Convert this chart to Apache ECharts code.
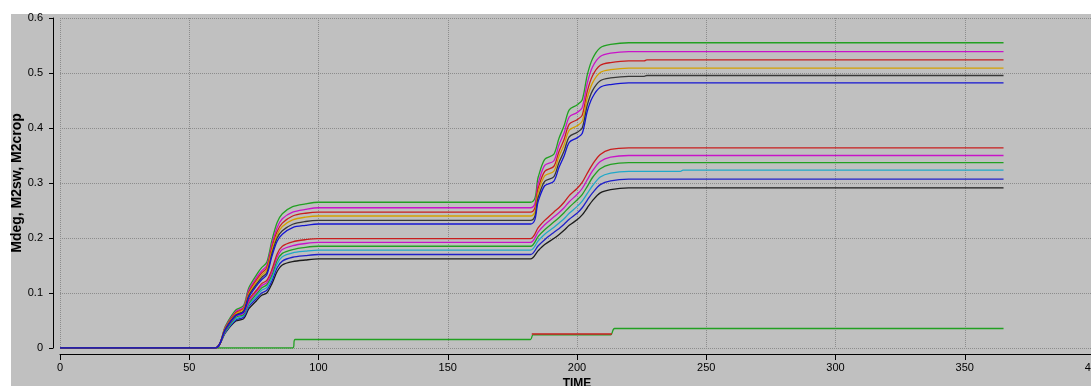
<!DOCTYPE html>
<html>
<head>
<meta charset="utf-8">
<script src="https://cdn.jsdelivr.net/npm/echarts@6/dist/echarts.min.js"></script>
<style>
  html, body { margin: 0; padding: 0; background: #fff; }
  .chart_wrap { position: relative; width: 1091px; height: 386px; overflow: hidden; background: #fff; }
  .panel { position: absolute; left: 11px; top: 14px; width: 1080px; height: 372px; background: #c0c0c0; }
  #chart { position: absolute; left: 0; top: 0; width: 1091px; height: 386px; }
</style>
</head>
<body>
<div class="chart_wrap">
  <div class="panel"></div>
  <div id="chart"></div>
</div>
<script>
// simulation days shared by the curves
const days = [0, 60, 64, 68, 71, 73, 76, 78, 80, 82, 84, 86, 90, 95, 100,
  182, 185, 187.5, 191, 193, 195, 197, 200, 202, 204, 206, 209, 213, 220, 226, 227, 240, 241, 365]

// upper group (ends around 0.48 - 0.56)
const upGreen = [0, 0, .040, .069, .077, .109, .133, .146, .156, .196, .228, .244, .257, .262, .265,
  .265, .311, .343, .352, .381, .404, .433, .442, .451, .497, .526, .546, .552, .555, .555, .555, .555, .555, .555]
const upMagenta = [0, 0, .038, .066, .074, .105, .128, .140, .150, .189, .219, .235, .247, .252, .255,
  .255, .300, .332, .340, .369, .391, .420, .428, .437, .482, .511, .530, .536, .539, .539, .539, .539, .539, .539]
const upRed = [0, 0, .037, .064, .072, .101, .124, .136, .146, .183, .212, .227, .240, .245, .247,
  .247, .291, .321, .330, .357, .379, .407, .415, .423, .467, .495, .514, .519, .522, .522, .524, .524, .524, .524]
const upOrange = [0, 0, .036, .062, .070, .098, .120, .132, .142, .178, .206, .221, .233, .238, .240,
  .240, .283, .313, .321, .348, .369, .396, .404, .412, .455, .482, .501, .506, .509, .509, .509, .509, .509, .509]
const upBlack = [0, 0, .035, .060, .067, .095, .116, .128, .137, .172, .200, .213, .225, .230, .232,
  .232, .274, .303, .311, .337, .358, .384, .392, .400, .442, .468, .486, .491, .494, .494, .4955, .4955, .4955, .4955]
const upBlue = [0, 0, .034, .059, .065, .092, .113, .124, .133, .167, .194, .207, .219, .223, .2255,
  .2255, .267, .295, .303, .328, .349, .374, .382, .390, .431, .456, .474, .479, .482, .482, .482, .482, .482, .482]

// lower group (ends around 0.29 - 0.36)
const lowRed = [0, 0, .034, .060, .066, .088, .105, .117, .123, .143, .171, .185, .193, .197, .199,
  .199, .219, .232, .247, .255, .265, .277, .290, .301, .318, .334, .352, .361, .364, .364, .364, .364, .364, .364]
const lowMagenta = [0, 0, .033, .058, .063, .084, .102, .113, .119, .138, .165, .179, .186, .190, .192,
  .192, .211, .224, .238, .246, .255, .266, .279, .290, .306, .322, .339, .347, .350, .350, .350, .350, .350, .350]
const lowGreen = [0, 0, .031, .056, .061, .081, .098, .109, .115, .133, .159, .172, .179, .183, .185,
  .185, .203, .215, .229, .237, .246, .256, .269, .279, .294, .310, .326, .334, .337, .337, .337, .337, .337, .337]
const lowCyan = [0, 0, .030, .053, .059, .078, .094, .105, .110, .128, .153, .166, .173, .176, .178,
  .178, .195, .207, .219, .227, .235, .245, .257, .267, .281, .295, .311, .318, .321, .321, .321, .321, .3235, .3235]
const lowBlue = [0, 0, .029, .051, .056, .075, .090, .100, .105, .122, .146, .158, .165, .168, .170,
  .170, .186, .197, .210, .217, .225, .234, .245, .255, .269, .282, .297, .304, .307, .307, .307, .307, .307, .307]
const lowBlack = [0, 0, .028, .049, .053, .071, .086, .096, .100, .117, .139, .151, .157, .160, .162,
  .162, .177, .188, .199, .206, .214, .223, .233, .242, .255, .268, .282, .288, .291, .291, .291, .291, .291, .291]

// small step line near zero
const stepDays = [0, 90, 91, 182, 183, 213, 214.5, 365]
const stepGreen = [0, 0, .0155, .0155, .024, .024, .0355, .0355]
const stepRedDays = [182.5, 213.5]
const stepRed = [.0255, .0255]

const xTicks = [0, 50, 100, 150, 200, 250, 300, 350, 400]
const yTicks = [0, 0.1, 0.2, 0.3, 0.4, 0.5, 0.6]

const pair = (xs, ys) => xs.map((x, i) => [x, ys[i]])

const curves = [
  { data: pair(stepDays, stepGreen), color: '#22a022' },
  { data: pair(stepRedDays, stepRed), color: '#c81e1e' },
  { data: pair(days, lowBlack), color: '#1c1c1c' },
  { data: pair(days, lowBlue), color: '#2020c8' },
  { data: pair(days, lowCyan), color: '#20a8c8' },
  { data: pair(days, lowGreen), color: '#22a022' },
  { data: pair(days, lowMagenta), color: '#c814c8' },
  { data: pair(days, lowRed), color: '#c81e1e' },
  { data: pair(days, upGreen), color: '#22a022' },
  { data: pair(days, upMagenta), color: '#c814c8' },
  { data: pair(days, upRed), color: '#c81e1e' },
  { data: pair(days, upOrange), color: '#d4a000' },
  { data: pair(days, upBlack), color: '#383838' },
  { data: pair(days, upBlue), color: '#1414d2' }
]

const fontFamily = '"Liberation Sans", Arial, sans-serif'
const gridLine = { show: true, lineStyle: { color: '#8c8c8c', type: [1, 1], width: 1 } }

const chart = echarts.init(document.getElementById('chart'))
const option = {
  animation: false,
  grid: { left: 60, top: 18, width: 1034, height: 330, containLabel: false, outerBoundsMode: 'none' },
  xAxis: {
    type: 'value',
    min: xTicks[0],
    max: xTicks[xTicks.length - 1],
    interval: xTicks[1] - xTicks[0],
    offset: 6,
    name: 'TIME',
    nameLocation: 'middle',
    nameGap: 24,
    nameMoveOverlap: false,
    nameTextStyle: { color: '#000', fontFamily, fontSize: 12, fontWeight: 'bold' },
    axisLine: { show: true, onZero: false, lineStyle: { color: '#000', width: 1 } },
    axisTick: { show: true, length: 6, lineStyle: { color: '#000' } },
    axisLabel: { color: '#000', fontFamily, fontSize: 11, margin: 8 },
    splitLine: gridLine
  },
  yAxis: {
    type: 'value',
    min: yTicks[0],
    max: yTicks[yTicks.length - 1],
    interval: 0.1,
    offset: 7,
    name: 'Mdeg, M2sw, M2crop',
    nameLocation: 'middle',
    nameGap: 29,
    nameMoveOverlap: false,
    nameTextStyle: { color: '#000', fontFamily, fontSize: 14, fontWeight: 'bold' },
    axisLine: { show: true, onZero: false, lineStyle: { color: '#000', width: 1 } },
    axisTick: { show: true, length: 4, lineStyle: { color: '#000' } },
    axisLabel: { color: '#000', fontFamily, fontSize: 11, margin: 10 },
    splitLine: gridLine
  },
  series: curves.map(c => ({
    type: 'line',
    data: c.data,
    showSymbol: false,
    symbol: 'none',
    smooth: 0.3,
    lineStyle: { color: c.color, width: 1.3 },
    itemStyle: { color: c.color }
  }))
}
chart.setOption(option)
</script>
</body>
</html>
